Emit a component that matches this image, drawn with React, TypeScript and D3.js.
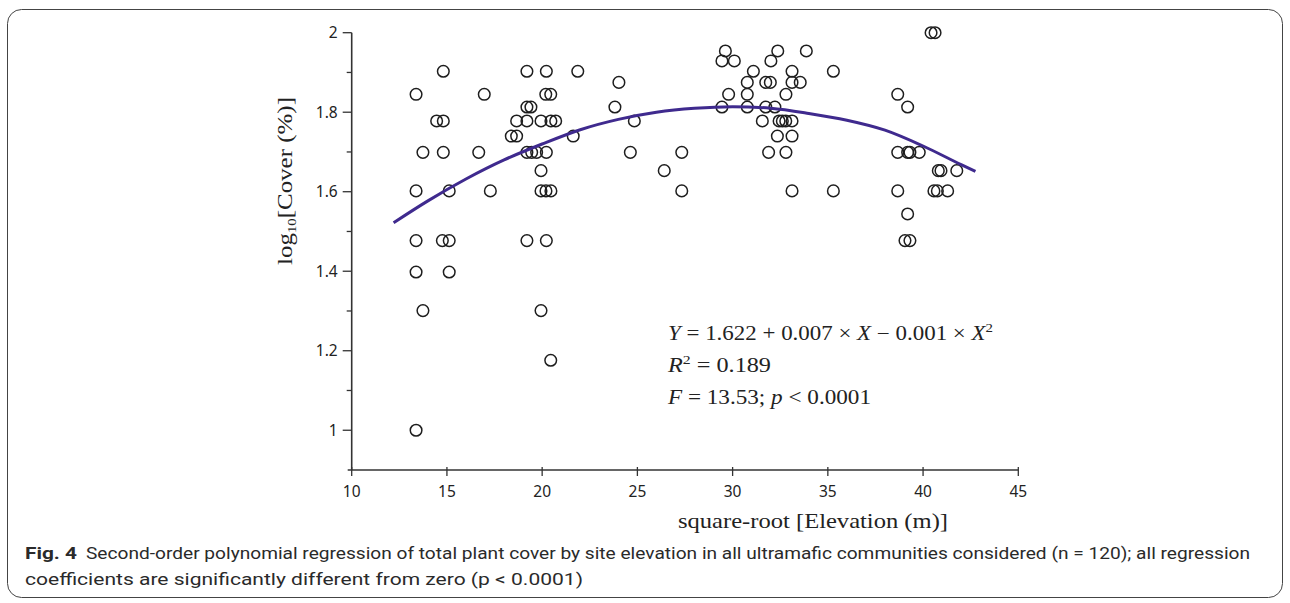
import React from 'react';
import * as d3 from 'd3';

// sqrt elevation (x) and log10 cover (y)
const siteX = [
  14.81, 19.2, 20.22, 21.87, 13.38, 16.96, 20.19, 20.45, 19.2, 19.41,
  14.46, 14.81, 18.66, 19.2, 19.94, 20.46, 20.71, 18.38, 18.66, 21.63,
  13.74, 14.81, 16.67, 19.2, 19.45, 19.71, 20.22, 19.94, 13.38, 15.12,
  17.28, 19.94, 20.2, 20.46, 13.38, 14.76, 15.12, 19.2, 20.22, 13.38,
  15.12, 13.74, 19.94, 20.45, 13.38,
  24.03, 23.82, 24.84, 24.63, 27.33, 26.41, 27.33, 29.62, 29.44, 30.09,
  32.37, 32.01, 33.87, 31.09, 33.12, 35.29, 30.77, 31.74, 31.98, 33.12,
  33.55, 29.79, 30.77, 32.8, 29.44, 30.77, 31.74, 32.22, 31.56, 32.44,
  32.61, 32.79, 33.12, 32.35, 33.12, 31.89, 32.8, 33.12, 35.29,
  40.42, 40.63, 38.67, 39.19, 38.67, 39.19, 39.31, 39.8, 40.8, 40.94,
  41.77, 38.67, 40.57, 40.75, 41.29, 39.19, 39.05, 39.31,
];
const siteY = [
  1.903, 1.903, 1.903, 1.903, 1.845, 1.845, 1.845, 1.845, 1.813, 1.813,
  1.778, 1.778, 1.778, 1.778, 1.778, 1.778, 1.778, 1.74, 1.74, 1.74,
  1.699, 1.699, 1.699, 1.699, 1.699, 1.699, 1.699, 1.653, 1.602, 1.602,
  1.602, 1.602, 1.602, 1.602, 1.477, 1.477, 1.477, 1.477, 1.477, 1.398,
  1.398, 1.301, 1.301, 1.176, 1.0,
  1.875, 1.813, 1.778, 1.699, 1.699, 1.653, 1.602, 1.954, 1.929, 1.929,
  1.954, 1.929, 1.954, 1.903, 1.903, 1.903, 1.875, 1.875, 1.875, 1.875,
  1.875, 1.845, 1.845, 1.845, 1.813, 1.813, 1.813, 1.813, 1.778, 1.778,
  1.778, 1.778, 1.778, 1.74, 1.74, 1.699, 1.699, 1.602, 1.602,
  2.0, 2.0, 1.845, 1.813, 1.699, 1.699, 1.699, 1.699, 1.653, 1.653,
  1.653, 1.602, 1.602, 1.602, 1.602, 1.544, 1.477, 1.477,
];

// fitted curve as drawn
const fitX = [12.2, 14, 16, 18, 20, 22, 24, 26, 28, 30, 32, 34, 36, 38, 40, 42, 42.75];
const fitY = [1.522, 1.577, 1.632, 1.68, 1.72, 1.756, 1.782, 1.8, 1.81, 1.814, 1.81, 1.797, 1.78, 1.755, 1.715, 1.668, 1.651];

const xTicks = [10, 15, 20, 25, 30, 35, 40, 45];
const yTicks = [1, 1.1, 1.2, 1.3, 1.4, 1.5, 1.6, 1.7, 1.8, 1.9, 2];

const App = () => {
  const x = d3.scaleLinear().domain([10, 45]).range([351.7, 1018.3]);
  const y = d3.scaleLinear().domain([0.9, 2]).range([470, 32.7]);

  const line = d3.line<number>()
    .x((d, i) => x(fitX[i]))
    .y(d => y(d))
    .curve(d3.curveMonotoneX);

  const tickFont = "'Noto Sans', 'Open Sans', sans-serif";
  const serif = "'Liberation Serif', 'DejaVu Serif', serif";

  return (
    <div style={{ position: 'absolute', left: 0, top: 0 }}>
      <svg width={1290} height={603} style={{ display: 'block', background: '#fff' }}>
        <rect x={7.5} y={9.5} width={1275} height={588} rx={14} fill="none" stroke="#444" strokeWidth={1} />

        {/* axes */}
        <line x1={x(10)} x2={x(10)} y1={y(2)} y2={y(0.9)} stroke="#333" strokeWidth={1.6} />
        <line x1={x(10) - 4} x2={x(45)} y1={y(0.9)} y2={y(0.9)} stroke="#333" strokeWidth={1.6} />

        {yTicks.map((t, i) => {
          const major = i % 2 === 0;
          return (
            <g key={t}>
              <line x1={x(10) - (major ? 9 : 5)} x2={x(10)} y1={y(t)} y2={y(t)} stroke="#333" strokeWidth={1.3} />
              {major && (
                <text x={x(10) - 14} y={y(t)} dy="0.35em" textAnchor="end"
                  fontFamily={tickFont} fontSize={15.5} fill="#222">
                  {d3.format('~g')(t)}
                </text>
              )}
            </g>
          );
        })}

        {xTicks.map(t => (
          <g key={t}>
            <line x1={x(t)} x2={x(t)} y1={y(0.9) - 3} y2={y(0.9) + 6} stroke="#333" strokeWidth={1.3} />
            <text x={x(t)} y={y(0.9) + 27} textAnchor="middle"
              fontFamily={tickFont} fontSize={15.5} fill="#222">{t}</text>
          </g>
        ))}

        {/* points */}
        {siteX.map((v, i) => (
          <circle key={i} cx={x(v)} cy={y(siteY[i])} r={5.8}
            fill="none" stroke="#1e1e1e" strokeWidth={1.5} />
        ))}

        {/* fitted curve */}
        <path d={line(fitY) || ''} fill="none" stroke="#3f2a8e" strokeWidth={3} />

        {/* equation */}
        <g fontFamily={serif} fontSize={20} fill="#222">
          <text x={668} y={340} textLength={325} lengthAdjust="spacingAndGlyphs">
            <tspan fontStyle="italic">Y</tspan> = 1.622 + 0.007 × <tspan fontStyle="italic">X</tspan> − 0.001 × <tspan fontStyle="italic">X</tspan>
            <tspan fontSize={13} dy={-8}>2</tspan>
          </text>
          <text x={668} y={372} textLength={103} lengthAdjust="spacingAndGlyphs">
            <tspan fontStyle="italic">R</tspan><tspan fontSize={13} dy={-8}>2</tspan><tspan dy={8}> = 0.189</tspan>
          </text>
          <text x={668} y={404} textLength={203} lengthAdjust="spacingAndGlyphs">
            <tspan fontStyle="italic">F</tspan> = 13.53; <tspan fontStyle="italic">p</tspan> &lt; 0.0001
          </text>
        </g>

        {/* axis titles */}
        <text x={678} y={528} fontFamily={serif} fontSize={22} fill="#222"
          textLength={270} lengthAdjust="spacingAndGlyphs">square-root [Elevation (m)]</text>
        <text transform="translate(292,265) rotate(-90)"
          fontFamily={serif} fontSize={22} fill="#222"
          textLength={168} lengthAdjust="spacingAndGlyphs">
          log<tspan fontSize={13} dy={4}>10</tspan><tspan dy={-4}>[Cover (%)]</tspan>
        </text>

        {/* caption */}
        <g fontFamily="'Liberation Sans Narrow', 'Roboto', sans-serif" fontSize={17} fill="#2a2a2a">
          <text x={25} y={559} fontWeight="bold" textLength={52} lengthAdjust="spacingAndGlyphs">Fig. 4</text>
          <text x={86} y={559} textLength={1164} lengthAdjust="spacingAndGlyphs">
            Second-order polynomial regression of total plant cover by site elevation in all ultramafic communities considered (n = 120); all regression
          </text>
          <text x={25} y={585} textLength={558} lengthAdjust="spacingAndGlyphs">
            coefficients are significantly different from zero (p &lt; 0.0001)
          </text>
        </g>
      </svg>
    </div>
  );
};

export default App;
